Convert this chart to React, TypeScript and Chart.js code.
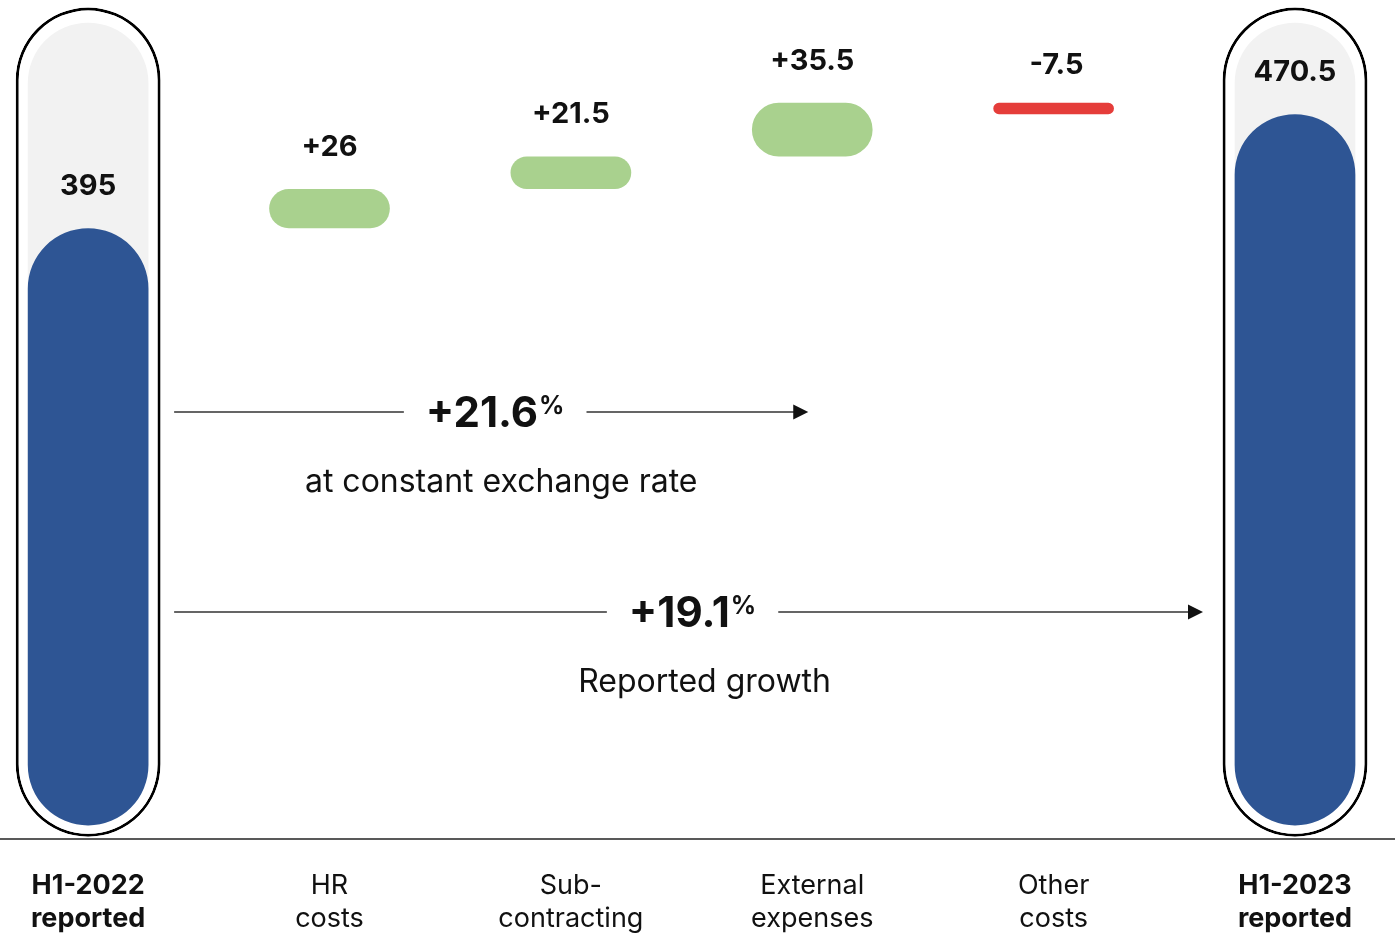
import { useEffect, useRef } from 'react';
import { Chart, registerables } from 'chart.js';

Chart.register(...registerables);

// ---------- data ----------
const CATEGORIES: string[][] = [
  ['H1-2022', 'reported'],
  ['HR', 'costs'],
  ['Sub-', 'contracting'],
  ['External', 'expenses'],
  ['Other', 'costs'],
  ['H1-2023', 'reported'],
];
const START_VALUE = 395;
const CHANGES = [26, 21.5, 35.5, -7.5];
const END_VALUE = 470.5;
const GROWTH_RATES = ['+21.6', '+19.1'];
const GROWTH_CAPTIONS = ['at constant exchange rate', 'Reported growth'];
const TRACK_RANGE: [number, number] = [0, 531];
const OUTLINE_RANGE: [number, number] = [-7.5, 541];

// ---------- styles ----------
const FONT = 'Inter, "Noto Sans", "DejaVu Sans", sans-serif';
const BLUE = '#2E5594';
const GREEN = '#A9D18E';
const RED = '#E53D3A';
const GREY = '#F2F2F2';
const INK = '#111111';

const n = CATEGORIES.length;
const totalsData = CATEGORIES.map((_, i) =>
  i === 0 ? START_VALUE : i === n - 1 ? END_VALUE : null
);
const changesData: ([number, number] | null)[] = [null];
{
  let run = START_VALUE;
  CHANGES.forEach((c) => {
    changesData.push([run, run + c]);
    run += c;
  });
  changesData.push(null);
}
const changeColors = [null, ...CHANGES.map((c) => (c >= 0 ? GREEN : RED)), null];
const trackData = CATEGORIES.map((_, i) => (i === 0 || i === n - 1 ? TRACK_RANGE : null));
const outlineData = CATEGORIES.map((_, i) => (i === 0 || i === n - 1 ? OUTLINE_RANGE : null));

const fmtChange = (c: number) => (c > 0 ? '+' : '') + String(c);

const valueLabelPlugin = {
  id: 'valueLabels',
  afterDatasetsDraw(chart: any) {
    const ctx = chart.ctx;
    const totalsMeta = chart.getDatasetMeta(0);
    const changesMeta = chart.getDatasetMeta(1);
    ctx.save();
    ctx.fillStyle = INK;
    ctx.font = `bold 29px ${FONT}`;
    ctx.textAlign = 'center';
    ctx.textBaseline = 'middle';
    for (let i = 0; i < n; i++) {
      let el: any = null;
      let text = '';
      let gap = 42;
      if (totalsData[i] != null) {
        el = totalsMeta.data[i];
        text = String(totalsData[i]);
      } else if (changesData[i] != null) {
        el = changesMeta.data[i];
        const c = CHANGES[i - 1];
        text = fmtChange(c);
        if (c < 0) gap = 38;
      }
      if (!el) continue;
      const top = Math.min(el.y, el.base);
      ctx.fillText(text, el.x + (text.startsWith('-') ? 3 : 0), top - gap);
    }
    ctx.restore();
  },
};

const annotationPlugin = {
  id: 'growthArrows',
  afterDraw(chart: any) {
    const ctx = chart.ctx;
    const xs = chart.scales.x;
    const area = chart.chartArea;
    // baseline across full width
    ctx.save();
    ctx.strokeStyle = '#222';
    ctx.lineWidth = 1.5;
    ctx.beginPath();
    ctx.moveTo(0, area.bottom);
    ctx.lineTo(chart.width, area.bottom);
    ctx.stroke();

    const x0 = xs.getPixelForValue(0) + 86;
    const rows = [
      { end: xs.getPixelForValue(3) - 4, y: 412, capShift: 6 },
      { end: xs.getPixelForValue(5) - 92, y: 612, capShift: 12 },
    ];
    rows.forEach((r, k) => {
      ctx.font = `bold 42px ${FONT}`;
      const w1 = ctx.measureText(GROWTH_RATES[k]).width;
      ctx.font = `bold 25px ${FONT}`;
      const w2 = ctx.measureText('%').width;
      const W = w1 + 1 + w2;
      const cx = (x0 + r.end) / 2 + 4;
      const sx = cx - W / 2;
      // lines
      ctx.strokeStyle = '#333';
      ctx.lineWidth = 1.5;
      ctx.beginPath();
      ctx.moveTo(x0, r.y);
      ctx.lineTo(sx - 22, r.y);
      ctx.moveTo(sx + W + 22, r.y);
      ctx.lineTo(r.end - 12, r.y);
      ctx.stroke();
      ctx.fillStyle = '#111';
      ctx.beginPath();
      ctx.moveTo(r.end - 15, r.y - 7.5);
      ctx.lineTo(r.end, r.y);
      ctx.lineTo(r.end - 15, r.y + 7.5);
      ctx.closePath();
      ctx.fill();
      // texts
      ctx.fillStyle = INK;
      ctx.textAlign = 'left';
      ctx.textBaseline = 'alphabetic';
      ctx.font = `bold 42px ${FONT}`;
      ctx.fillText(GROWTH_RATES[k], sx, r.y + 15);
      ctx.font = `bold 25px ${FONT}`;
      ctx.fillText('%', sx + w1 + 1, r.y + 2);
      ctx.font = `32px ${FONT}`;
      ctx.textAlign = 'center';
      ctx.textBaseline = 'middle';
      ctx.fillText(GROWTH_CAPTIONS[k], cx + r.capShift, r.y + 70);
    });
    ctx.restore();
  },
};

export default function App() {
  const canvasRef = useRef<HTMLCanvasElement | null>(null);

  useEffect(() => {
    if (!canvasRef.current) return;
    const common = {
      grouped: false,
      categoryPercentage: 1,
      borderRadius: 999,
      borderSkipped: false,
      clip: false as any,
    };
    const chart = new Chart(canvasRef.current, {
      type: 'bar',
      data: {
        labels: CATEGORIES,
        datasets: [
          {
            ...common,
            label: 'Totals',
            data: totalsData as any,
            backgroundColor: BLUE,
            barPercentage: 0.5,
            order: 1,
          },
          {
            ...common,
            label: 'Changes',
            data: changesData as any,
            backgroundColor: changeColors as any,
            barPercentage: 0.5,
            order: 1,
          },
          {
            ...common,
            label: 'Track',
            data: trackData as any,
            backgroundColor: GREY,
            barPercentage: 0.5,
            order: 2,
          },
          {
            ...common,
            label: 'Outline',
            data: outlineData as any,
            backgroundColor: '#ffffff',
            borderColor: '#000000',
            borderWidth: 3,
            barPercentage: 0.6,
            order: 3,
          },
        ] as any,
      },
      options: {
        animation: false,
        responsive: false,
        layout: { padding: { left: 87, right: 100, top: 0, bottom: 0 } },
        plugins: {
          legend: { display: false },
          tooltip: { enabled: false },
        },
        scales: {
          x: {
            offset: false,
            grid: { display: false, drawTicks: false },
            border: { display: false },
            ticks: {
              color: INK,
              padding: 31,
              maxRotation: 0,
              autoSkip: false,
              font: ((c: any) => ({
                family: FONT,
                size: 27,
                lineHeight: 1.2,
                weight: c.index === 0 || c.index === n - 1 ? 'bold' : 'normal',
              })) as any,
            },
            afterFit: (scale: any) => {
              scale.height = 95;
            },
          },
          y: {
            display: false,
            min: -9,
            max: 546,
          },
        },
      },
      plugins: [valueLabelPlugin, annotationPlugin],
    });
    return () => chart.destroy();
  }, []);

  return (
    <div style={{ position: 'fixed', left: 0, top: 0, width: 1395, height: 934, background: '#fff' }}>
      <canvas ref={canvasRef} width={1395} height={934} style={{ display: 'block' }} />
    </div>
  );
}
